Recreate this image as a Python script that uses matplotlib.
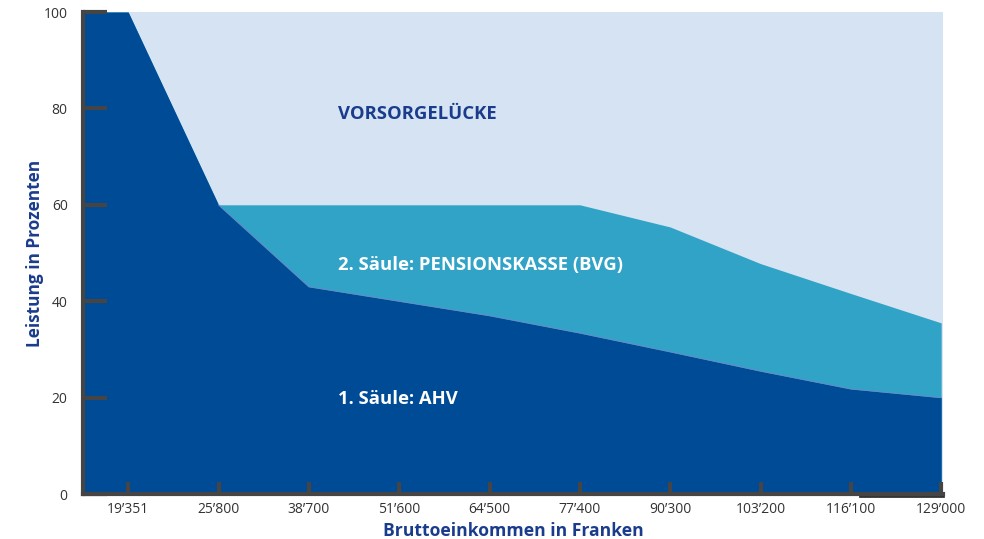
import numpy as np
import matplotlib.pyplot as plt

plt.rcParams['font.family'] = ['Open Sans', 'DejaVu Sans']

# income categories (x axis) and benefit levels in percent
incomes = ["19\u2019351", "25\u2019800", "38\u2019700", "51\u2019600", "64\u2019500",
           "77\u2019400", "90\u2019300", "103\u2019200", "116\u2019100", "129\u2019000"]
ahv = [100, 60, 43, 40, 37, 33.4, 29.5, 25.5, 21.8, 20]
bvg_total = [100, 60, 60, 60, 60, 60, 55.4, 47.8, 41.6, 35.5]

dark = '#004b96'
mid = '#31a3c7'
light = '#d6e3f2'
label_col = '#1a3c8c'
axis_col = '#454545'


def main():
    fig = plt.figure(figsize=(9.84, 5.39), dpi=100)
    ax = fig.add_axes([83 / 984, 45 / 539, 860 / 984, 482 / 539])
    ax.set_facecolor(light)

    x = np.arange(len(incomes))
    # extend the first category to the left edge of the axes
    xs = np.concatenate([[-0.5], x])
    ahv_s = np.concatenate([[ahv[0]], ahv])
    bvg_s = np.concatenate([[bvg_total[0]], bvg_total])

    ax.fill_between(xs, 0, bvg_s, color=mid, lw=0)
    ax.fill_between(xs, 0, ahv_s, color=dark, lw=0)
    ax.plot(xs[2:], ahv_s[2:], color='#5f8fc8', lw=0.8)

    ax.set_xlim(-0.5, len(incomes) - 1 + 0.02)
    ax.set_ylim(0, 100)

    ax.set_xticks(x)
    ax.set_xticklabels(incomes, fontsize=10, color='#333333')
    ax.set_yticks([0, 20, 40, 60, 80, 100])
    ax.set_yticklabels(['0', '20', '40', '60', '80', '100'], fontsize=10, color='#333333')
    ax.tick_params(axis='x', direction='in', length=9, width=3, color=axis_col, pad=6)
    ax.tick_params(axis='y', direction='in', length=17, width=3, color=axis_col, pad=11)

    for s in ['top', 'right']:
        ax.spines[s].set_visible(False)
    for s in ['left', 'bottom']:
        ax.spines[s].set_color(axis_col)
        ax.spines[s].set_linewidth(3)
    # darker stub under the last segment of the x axis
    ax.plot([8.1, 9.02], [-0.4, -0.4], color='#333333', lw=2, clip_on=False)

    ax.set_xlabel("Bruttoeinkommen in Franken", fontsize=12.6, fontweight='bold',
                  color=label_col, labelpad=3)
    ax.set_ylabel("Leistung in Prozenten", fontsize=12.4, fontweight='bold',
                  color=label_col, labelpad=0)

    ax.text(2.32, 78.8, "VORSORGEL\u00dcCKE", fontsize=13.3, fontweight='bold',
            color=label_col, va='center')
    ax.text(2.32, 47.6, "2. S\u00e4ule: PENSIONSKASSE (BVG)", fontsize=13.3,
            fontweight='bold', color='white', va='center')
    ax.text(2.32, 19.7, "1. S\u00e4ule: AHV", fontsize=13.3, fontweight='bold',
            color='white', va='center')

    fig.savefig('out.png', dpi=100)


if __name__ == "__main__":
    main()
